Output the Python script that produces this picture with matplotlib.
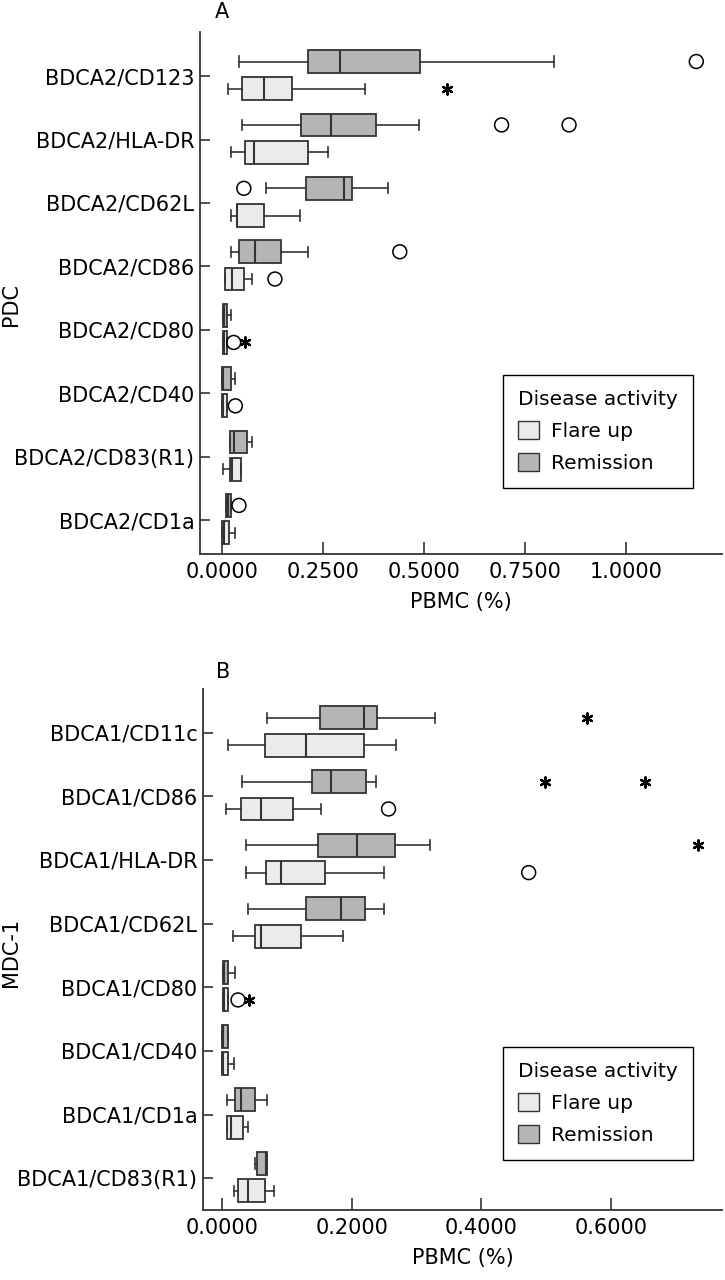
import matplotlib
matplotlib.use("Agg")
import matplotlib.pyplot as plt
from matplotlib.patches import Patch

plt.rcParams['font.family'] = ['DejaVu Sans']

# ---------------- Panel A (PDC) ----------------
cats_a = ["BDCA2/CD123", "BDCA2/HLA-DR", "BDCA2/CD62L", "BDCA2/CD86",
          "BDCA2/CD80", "BDCA2/CD40", "BDCA2/CD83(R1)", "BDCA2/CD1a"]
# each: [whislo, q1, med, q3, whishi]
rem_a = [
    [0.042, 0.212, 0.291, 0.489, 0.821],
    [0.050, 0.195, 0.269, 0.381, 0.487],
    [0.109, 0.207, 0.303, 0.321, 0.410],
    [0.021, 0.043, 0.081, 0.146, 0.213],
    [0.0025, 0.0025, 0.005, 0.012, 0.021],
    [0.000, 0.000, 0.002, 0.022, 0.031],
    [0.019, 0.019, 0.030, 0.061, 0.073],
    [0.010, 0.010, 0.014, 0.023, 0.023],
]
flare_a = [
    [0.015, 0.050, 0.104, 0.174, 0.354],
    [0.021, 0.058, 0.080, 0.214, 0.263],
    [0.021, 0.038, 0.038, 0.104, 0.192],
    [0.008, 0.008, 0.024, 0.054, 0.073],
    [0.0025, 0.0025, 0.005, 0.0125, 0.0125],
    [0.000, 0.000, 0.002, 0.013, 0.013],
    [0.0025, 0.019, 0.025, 0.047, 0.047],
    [0.000, 0.000, 0.006, 0.018, 0.031],
]
rem_a_circ = [[1.174], [0.692, 0.859], [0.054], [0.440], [], [], [], [0.042]]
rem_a_star = [[], [], [], [], [], [], [], []]
flare_a_circ = [[], [], [], [0.131], [0.029], [0.033], [], []]
flare_a_star = [[0.557], [], [], [], [0.056], [], [], []]
xticks_a = [0.0, 0.25, 0.5, 0.75, 1.0]
xticklabels_a = ["0.0000", "0.2500", "0.5000", "0.7500", "1.0000"]

# ---------------- Panel B (MDC-1) ----------------
cats_b = ["BDCA1/CD11c", "BDCA1/CD86", "BDCA1/HLA-DR", "BDCA1/CD62L",
          "BDCA1/CD80", "BDCA1/CD40", "BDCA1/CD1a", "BDCA1/CD83(R1)"]
rem_b = [
    [0.069, 0.151, 0.219, 0.239, 0.329],
    [0.031, 0.139, 0.169, 0.222, 0.2375],
    [0.0375, 0.149, 0.208, 0.267, 0.321],
    [0.041, 0.129, 0.184, 0.221, 0.250],
    [0.0016, 0.0016, 0.004, 0.009, 0.020],
    [0.000, 0.000, 0.002, 0.009, 0.009],
    [0.008, 0.020, 0.030, 0.0505, 0.069],
    [0.0505, 0.055, 0.068, 0.070, 0.070],
]
flare_b = [
    [0.009, 0.067, 0.130, 0.219, 0.268],
    [0.007, 0.030, 0.061, 0.110, 0.153],
    [0.0375, 0.068, 0.092, 0.159, 0.250],
    [0.018, 0.0505, 0.060, 0.122, 0.1875],
    [0.0016, 0.0016, 0.004, 0.009, 0.010],
    [0.000, 0.000, 0.002, 0.009, 0.019],
    [0.008, 0.008, 0.014, 0.032, 0.040],
    [0.019, 0.0255, 0.040, 0.0667, 0.080],
]
rem_b_circ = [[], [], [], [], [], [], [], []]
rem_b_star = [[0.5625], [0.498, 0.653], [0.734], [], [], [], [], []]
flare_b_circ = [[], [0.257], [0.473], [], [0.025], [], [], []]
flare_b_star = [[], [], [], [], [0.042], [], [], []]
xticks_b = [0.0, 0.2, 0.4, 0.6]
xticklabels_b = ["0.0000", "0.2000", "0.4000", "0.6000"]

FLARE_COL = "#ebebeb"
REM_COL = "#b5b5b5"
EDGE = "#333333"
FS = 15

W, H = 725, 1280
fig = plt.figure(figsize=(W / 100, H / 100), dpi=100)


def draw_panel(ax, cats, rem, flare, rc, rs, fc, fs, xticks, xtl, xlim, ylim,
               ylabel, ylab_y, leg_xy):
    n = len(cats)
    off_r, off_f, w = -0.23, 0.20, 0.36
    for stats, pos, col in ((rem, off_r, REM_COL), (flare, off_f, FLARE_COL)):
        bstats = []
        for s in stats:
            bstats.append(dict(whislo=s[0], q1=s[1], med=s[2], q3=s[3],
                               whishi=s[4], fliers=[]))
        ax.bxp(bstats, positions=[i + pos for i in range(n)], widths=w,
               orientation='horizontal', patch_artist=True, showfliers=False,
               capwidths=w * 0.45,
               boxprops=dict(facecolor=col, edgecolor=EDGE, linewidth=1.3),
               medianprops=dict(color=EDGE, linewidth=1.5),
               whiskerprops=dict(color=EDGE, linewidth=1.2),
               capprops=dict(color=EDGE, linewidth=1.2))
    for circ, star, pos in ((rc, rs, off_r), (fc, fs, off_f)):
        for i in range(n):
            if circ[i]:
                ax.scatter(circ[i], [i + pos] * len(circ[i]), s=100,
                           facecolors='none', edgecolors='black',
                           linewidths=1.1, zorder=5)
            if star[i]:
                ax.scatter(star[i], [i + pos] * len(star[i]), s=55,
                           marker=(6, 2, 0), color='black', linewidths=1.6,
                           zorder=5)
    ax.set_yticks(range(n))
    ax.set_yticklabels(cats, fontsize=FS)
    ax.set_xticks(xticks)
    ax.set_xticklabels(xtl, fontsize=FS)
    ax.set_xlim(*xlim)
    ax.set_ylim(*ylim)
    ax.spines['top'].set_visible(False)
    ax.spines['right'].set_visible(False)
    for sp in ('left', 'bottom'):
        ax.spines[sp].set_color(EDGE)
        ax.spines[sp].set_linewidth(1.3)
    ax.tick_params(axis='y', direction='in', length=7, width=1.2,
                   color=EDGE, pad=4)
    ax.tick_params(axis='x', direction='in', length=9, width=1.2,
                   color=EDGE, pad=6)
    ax.set_xlabel("PBMC (%)", fontsize=FS, labelpad=7)
    ax.set_ylabel(ylabel, fontsize=FS)
    ax.yaxis.set_label_coords(21 / W, 1 - ylab_y / H,
                              transform=fig.transFigure)
    handles = [Patch(facecolor=FLARE_COL, edgecolor=EDGE, label="Flare up"),
               Patch(facecolor=REM_COL, edgecolor=EDGE, label="Remission")]
    leg = fig.legend(handles=handles, title="Disease activity", fontsize=14.5,
                     title_fontsize=14.5, loc='upper left',
                     bbox_to_anchor=(leg_xy[0] / W, 1 - leg_xy[1] / H),
                     borderaxespad=0, fancybox=False, edgecolor='black',
                     framealpha=1, handlelength=1.05, handleheight=1.0,
                     borderpad=0.75, handletextpad=0.6, labelspacing=0.6)
    leg.get_frame().set_linewidth(1.0)
    leg._legend_box.align = "left"


ax1 = fig.add_axes([200 / W, 1 - 554 / H, 522 / W, 522.3 / H])
draw_panel(ax1, cats_a, rem_a, flare_a, rem_a_circ, rem_a_star, flare_a_circ,
           flare_a_star, xticks_a, xticklabels_a, (-0.0545, 1.2376),
           (7.536, -0.70), "PDC", 305, (503, 375))
fig.text(215 / W, 1 - 18 / H, "A", fontsize=FS, ha='left', va='baseline')

ax2 = fig.add_axes([203 / W, 1 - 1210 / H, 519 / W, 520.7 / H])
draw_panel(ax2, cats_b, rem_b, flare_b, rem_b_circ, rem_b_star, flare_b_circ,
           flare_b_star, xticks_b, xticklabels_b, (-0.029, 0.771),
           (7.50, -0.68), "MDC-1", 952, (503, 1047))
fig.text(216 / W, 1 - 678 / H, "B", fontsize=FS, ha='left', va='baseline')

fig.savefig("out.png", dpi=100)
